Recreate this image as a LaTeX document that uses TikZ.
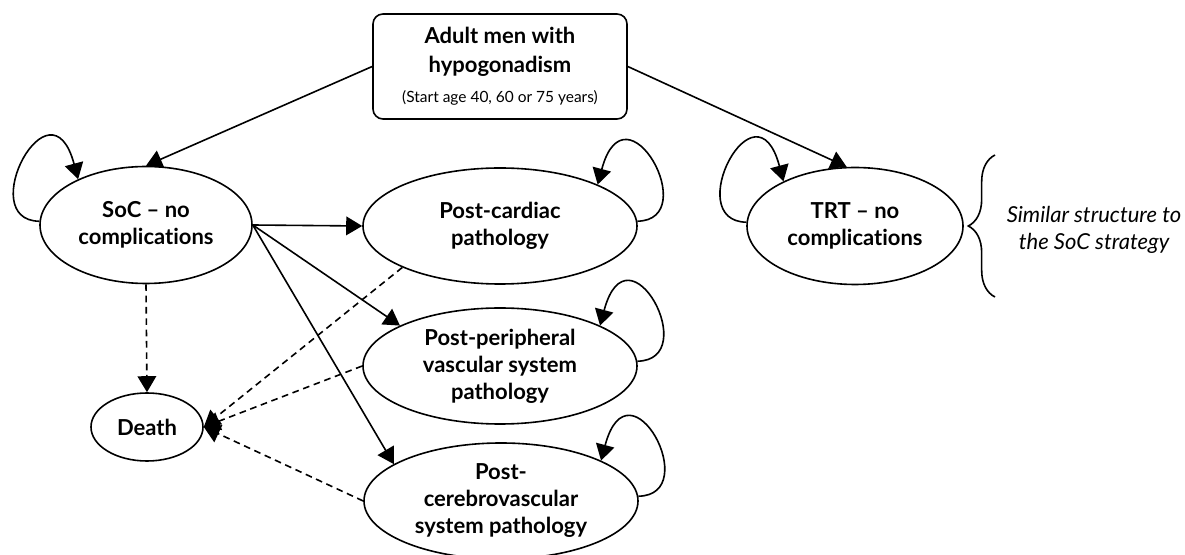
\documentclass[tikz,border=0pt]{standalone}
\usepackage{fontspec}
\setmainfont{Lato}[Ligatures=NoCommon]
\usetikzlibrary{arrows.meta,shapes.geometric,decorations.pathreplacing}

\tikzset{every picture/.style={line width=1.2pt}}

\begin{document}
\begin{tikzpicture}[x=0.75pt,y=0.75pt,yscale=-1,xscale=1,
  health/.style={draw,ellipse,inner sep=0pt,align=center,font=\fontsize{16.5}{20.25}\selectfont\bfseries},
  entry/.style={draw,rounded corners=7.5pt,inner sep=0pt,align=center,minimum width=190.5pt,minimum height=78.75pt,font=\fontsize{16.5}{21.75}\selectfont\bfseries},
  arrowline/.style={-{Triangle[length=12pt,width=14pt]}},
  dasharrow/.style={arrowline,dash pattern=on 5pt off 3.5pt}]
\useasboundingbox (0,0) rectangle (1185,555);

%Rounded Rect
\node[entry] (start) at (500,66.5) {Adult men with\\hypogonadism\\[1pt]{\fontsize{11.6}{13}\selectfont\mdseries (Start age 40, 60 or 75 years)}};
%Shape: Ellipse
\node[health,minimum width=159pt,minimum height=87.75pt] (soc) at (146,225) {SoC – no\\complications};
\node[health,minimum width=162pt,minimum height=87.75pt] (trt) at (855,226) {TRT – no\\complications};
\node[health,minimum width=205.5pt,minimum height=87pt] (card) at (500,226) {Post-cardiac\\pathology};
\node[health,minimum width=205.5pt,minimum height=87pt] (periph) at (500,366) {Post-peripheral\\vascular system\\pathology};
\node[health,minimum width=205.5pt,minimum height=87pt] (cereb) at (501,501) {Post-\\cerebrovascular\\system pathology};
\node[health,minimum width=84pt,minimum height=51pt] (death) at (147,427) {Death};

%Straight Lines
\draw[arrowline] (start.west) -- (soc.north);
\draw[arrowline] (start.east) -- (trt.98);
\draw[arrowline] (soc.east) -- (card.west);
\draw[arrowline] (soc.east) -- (periph.158);
\draw[arrowline] (soc.east) -- (cereb.161);
%Dashed Lines
\draw[dasharrow] (soc.south) -- (death.north);
\draw[dasharrow] (card.203) -- (death.east);
\draw[dasharrow] (periph.west) -- (death.east);
\draw[dasharrow] (cereb.west) -- (death.east);

%Curve Lines
\draw[arrowline] (soc.178) .. controls +(-66,-1) and +(-28,-105) .. (soc.146);
\draw[arrowline] (trt.178) .. controls +(-66,-1) and +(-28,-105) .. (trt.148);
\draw[arrowline] (card.2) .. controls +(66,-1) and +(28,-105) .. (card.23);
\draw[arrowline] (periph.2) .. controls +(66,-1) and +(28,-105) .. (periph.22);
\draw[arrowline] (cereb.2) .. controls +(66,-1) and +(28,-105) .. (cereb.22);

% Text Node
\node[align=center,font=\fontsize{16.5}{20.25}\selectfont\itshape] (note) at (1094,230) {Similar structure to\\the SoC strategy};
%Brace
\draw[decorate,decoration={brace,amplitude=20pt}] (995,297) -- (995,155);

\end{tikzpicture}
\end{document}
